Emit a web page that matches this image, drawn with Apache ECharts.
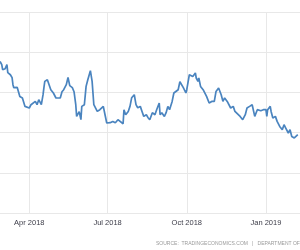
<!DOCTYPE html>
<html><head><meta charset="utf-8">
<script src="https://cdn.jsdelivr.net/npm/echarts@6/dist/echarts.min.js"></script>
<style>html,body{margin:0;padding:0;background:#fff}#c{width:300px;height:250px}</style>
</head><body><div id="c"></div>
<script>
var dates = ['2018-02-26','2018-02-28','2018-03-01','2018-03-04','2018-03-06','2018-03-07','2018-03-10','2018-03-12','2018-03-13','2018-03-14','2018-03-18','2018-03-20','2018-03-21','2018-03-24','2018-03-26','2018-03-27','2018-03-29',
'2018-04-01','2018-04-03','2018-04-05','2018-04-08','2018-04-10','2018-04-12','2018-04-15','2018-04-17','2018-04-18','2018-04-19','2018-04-22','2018-04-24','2018-04-26','2018-04-29',
'2018-05-01','2018-05-02','2018-05-04','2018-05-07','2018-05-09','2018-05-11','2018-05-14','2018-05-16','2018-05-18','2018-05-21','2018-05-23','2018-05-25','2018-05-26','2018-05-29','2018-05-31',
'2018-06-01','2018-06-04','2018-06-06','2018-06-08','2018-06-11','2018-06-13','2018-06-15','2018-06-19','2018-06-22','2018-06-24','2018-06-26','2018-06-28','2018-06-30',
'2018-07-04','2018-07-07','2018-07-10','2018-07-13','2018-07-15','2018-07-19','2018-07-20','2018-07-22','2018-07-25','2018-07-27','2018-07-29',
'2018-08-01','2018-08-03','2018-08-05','2018-08-08','2018-08-10','2018-08-12','2018-08-15','2018-08-17','2018-08-19','2018-08-22','2018-08-25','2018-08-27','2018-08-30','2018-08-31',
'2018-09-02','2018-09-05','2018-09-07','2018-09-09','2018-09-11','2018-09-14','2018-09-16','2018-09-18','2018-09-21','2018-09-23','2018-09-27','2018-09-29','2018-09-30',
'2018-10-01','2018-10-04','2018-10-06','2018-10-08','2018-10-11','2018-10-12','2018-10-14','2018-10-15','2018-10-17','2018-10-20','2018-10-22','2018-10-24','2018-10-27','2018-10-30',
'2018-11-02','2018-11-04','2018-11-07','2018-11-10','2018-11-12','2018-11-14','2018-11-17','2018-11-19','2018-11-21','2018-11-24','2018-11-26','2018-11-28',
'2018-12-02','2018-12-05','2018-12-08','2018-12-10','2018-12-13','2018-12-16','2018-12-18','2018-12-19','2018-12-22','2018-12-24','2018-12-26','2018-12-29','2018-12-31',
'2019-01-01','2019-01-02','2019-01-03','2019-01-06','2019-01-07','2019-01-09','2019-01-12','2019-01-14','2019-01-16','2019-01-17','2019-01-20','2019-01-22','2019-01-24','2019-01-27','2019-01-29','2019-01-31',
'2019-02-03','2019-02-05','2019-02-07'];
var values = [3.771,3.689,3.565,3.590,3.689,3.490,3.440,3.366,3.192,3.117,3.124,3.149,2.900,2.861,2.861,2.652,2.612,
2.612,2.694,2.719,2.776,2.694,2.818,2.694,2.943,3.117,3.274,3.316,3.316,3.067,2.985,
3.025,2.861,2.900,2.861,3.017,3.067,3.192,3.373,3.167,3.117,3.017,2.694,2.403,2.520,2.321,
2.652,2.694,3.149,3.316,3.540,3.274,2.694,2.527,2.570,2.545,2.652,2.445,2.239,
2.246,2.279,2.246,2.321,2.279,2.221,2.570,2.445,2.527,2.652,2.868,
2.943,2.694,2.619,2.652,2.527,2.403,2.445,2.371,2.321,2.495,2.445,2.570,2.736,2.445,
2.495,2.403,2.495,2.652,2.570,2.776,2.985,2.943,3.067,3.266,3.117,3.149,2.985,
3.067,3.440,3.483,3.398,3.483,3.358,3.274,3.358,3.149,3.067,3.109,2.900,2.736,2.776,
2.776,3.025,3.109,2.943,2.776,2.861,2.776,2.736,2.612,2.652,2.527,2.488,
2.403,2.321,2.445,2.612,2.652,2.694,2.652,2.403,2.570,2.527,2.545,2.570,2.612,
2.570,2.403,2.570,2.652,2.527,2.363,2.403,2.279,2.321,2.154,2.072,2.197,2.114,1.990,2.072,1.905,
1.866,1.905,1.948];
var tickDates = ['2018-04-01','2018-07-01','2018-10-01','2019-01-01'];
var tickLabels = ['Apr 2018','Jul 2018','Oct 2018','Jan 2019'];
var sourceText = 'SOURCE:  TRADINGECONOMICS.COM   |   DEPARTMENT OF';

function ts(s){ var p = s.split(' '); var d = p[0].split('-'); var h = p[1] ? parseInt(p[1],10) : 0; return new Date(+d[0], +d[1]-1, +d[2], h).getTime(); }
var tickTs = tickDates.map(ts);
var chart = echarts.init(document.getElementById('c'), null, {renderer:'canvas'});
chart.setOption({
  animation:false,
  grid:{left:0,right:0,top:12,bottom:37,containLabel:false},
  xAxis:{type:'value', min: ts('2018-02-25 23'), max: ts('2019-02-09 14'),
    axisLine:{show:false},
    axisTick:{show:false, customValues: tickTs},
    axisLabel:{customValues: tickTs, fontSize:7.5, color:'#3c3c48', margin:6, fontFamily:'Arial, Liberation Sans',
      formatter:function(v){ for (var i=0;i<tickTs.length;i++){ if (Math.abs(tickTs[i]-v)<43200000) return tickLabels[i]; } return ''; }},
    splitLine:{show:true, lineStyle:{color:'#e8e8e8', width:1}}
  },
  yAxis:{type:'value', position:'right', min:0, max:5, interval:1,
    axisLine:{show:false}, axisTick:{show:false}, axisLabel:{show:false},
    splitLine:{show:true, lineStyle:{color:'#e8e8e8', width:1}}
  },
  graphic:[{type:'text', left:156, top:241.5, style:{text:sourceText, fontSize:5, fill:'#9a9a9a', fontFamily:'Arial, Liberation Sans'}}],
  series:[{type:'line', data: dates.map(function(d,i){return [ts(d), values[i]];}), showSymbol:false,
    lineStyle:{color:'#4a84bf', width:1.7}, itemStyle:{color:'#4a84bf'}}]
});
</script></body></html>
